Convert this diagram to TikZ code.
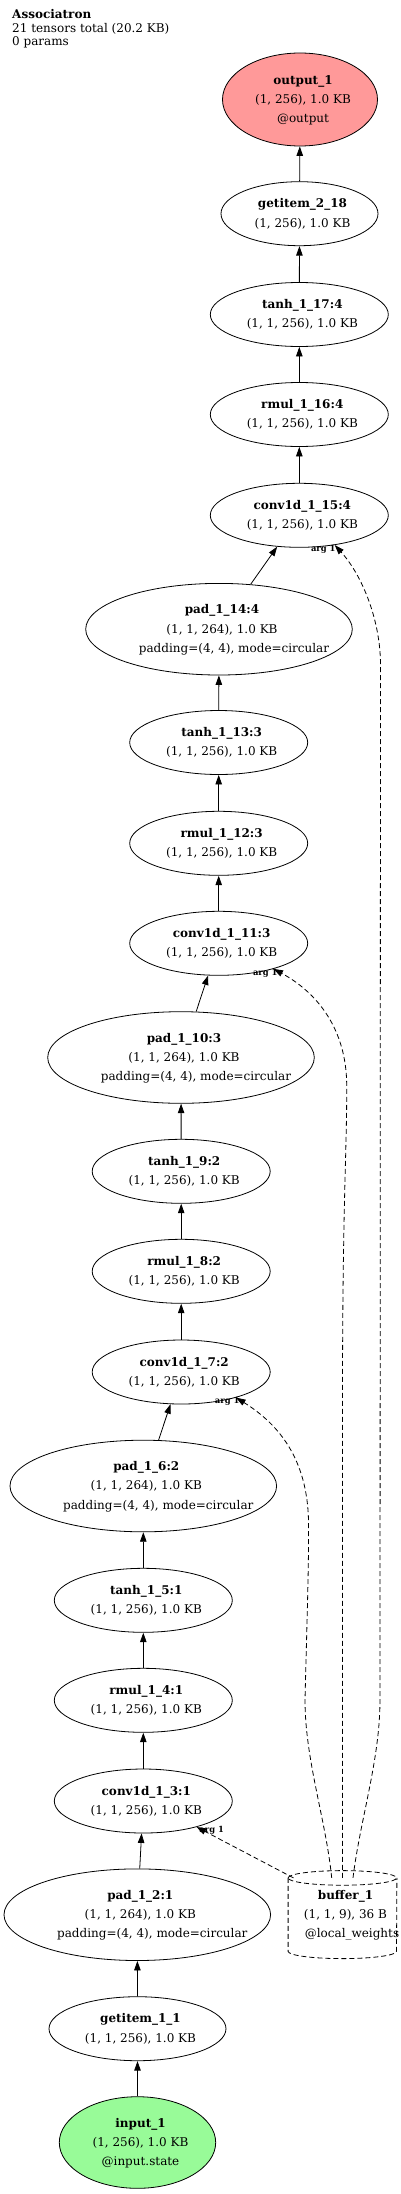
\documentclass[tikz,border=0pt]{standalone}
\usepackage{fontspec}
\setmainfont{DejaVu Serif}
\usetikzlibrary{shapes.geometric,arrows.meta}
\definecolor{outfill}{HTML}{FF9999}
\definecolor{infill}{HTML}{98FB98}
\newcommand{\ntxt}[2]{\makebox[0pt]{\hspace*{6pt}\begin{tabular}{@{}c@{}}\textbf{#1}\\#2\end{tabular}}}
\begin{document}
\begin{tikzpicture}[x=1pt,y=-1pt,
  opnode/.style={ellipse,draw,line width=0.8pt,inner sep=0pt,minimum width=178pt,minimum height=64pt,font=\fontsize{12}{19.2}\selectfont},
  padnode/.style={opnode,minimum width=266.6pt,minimum height=91.6pt},
  conn/.style={line width=0.8pt,-{Triangle[length=9.5pt,width=6.5pt]}},
  dconn/.style={conn,dash pattern=on 5pt off 3pt},
  bufline/.style={line width=0.8pt,dash pattern=on 5pt off 3pt},
  arglbl/.style={font=\fontsize{8.4}{9}\selectfont\bfseries,inner sep=0pt},
  ttl/.style={anchor=base west,inner sep=0pt,font=\fontsize{12}{13.5}\selectfont}]
\useasboundingbox (0,0) rectangle (400,2194);

\node[ttl] (title) at (12,19) {\textbf{Associatron}};
\node[ttl] (tinfo) at (12,32.5) {21 tensors total (20.2 KB)};
\node[ttl] (tparams) at (12,46) {0 params};

\node[opnode,fill=outfill,minimum width=155pt,minimum height=93pt] (out) at (300,99.5) {\ntxt{output\_1}{(1, 256), 1.0 KB\\@output}};
\node[opnode,minimum width=157pt] (g218) at (299.5,213.7) {\ntxt{getitem\_2\_18}{(1, 256), 1.0 KB}};
\node[opnode] (t17) at (299.3,314.5) {\ntxt{tanh\_1\_17:4}{(1, 1, 256), 1.0 KB}};
\node[opnode] (r16) at (299.3,414.5) {\ntxt{rmul\_1\_16:4}{(1, 1, 256), 1.0 KB}};
\node[opnode] (c15) at (299.3,515.3) {\ntxt{conv1d\_1\_15:4}{(1, 1, 256), 1.0 KB}};
\node[padnode] (p14) at (219,629.2) {\ntxt{pad\_1\_14:4}{(1, 1, 264), 1.0 KB\\\hspace*{24pt}padding=(4, 4), mode=circular}};
\node[opnode] (t13) at (218.7,742.5) {\ntxt{tanh\_1\_13:3}{(1, 1, 256), 1.0 KB}};
\node[opnode] (r12) at (218.7,843.3) {\ntxt{rmul\_1\_12:3}{(1, 1, 256), 1.0 KB}};
\node[opnode] (c11) at (218.7,943.3) {\ntxt{conv1d\_1\_11:3}{(1, 1, 256), 1.0 KB}};
\node[padnode] (p10) at (181,1057.5) {\ntxt{pad\_1\_10:3}{(1, 1, 264), 1.0 KB\\\hspace*{24pt}padding=(4, 4), mode=circular}};
\node[opnode] (t9) at (181.2,1171.3) {\ntxt{tanh\_1\_9:2}{(1, 1, 256), 1.0 KB}};
\node[opnode] (r8) at (181.2,1271.3) {\ntxt{rmul\_1\_8:2}{(1, 1, 256), 1.0 KB}};
\node[opnode] (c7) at (181.2,1372) {\ntxt{conv1d\_1\_7:2}{(1, 1, 256), 1.0 KB}};
\node[padnode] (p6) at (143.3,1486) {\ntxt{pad\_1\_6:2}{(1, 1, 264), 1.0 KB\\\hspace*{24pt}padding=(4, 4), mode=circular}};
\node[opnode] (t5) at (143.3,1600.3) {\ntxt{tanh\_1\_5:1}{(1, 1, 256), 1.0 KB}};
\node[opnode] (r4) at (143.3,1700.3) {\ntxt{rmul\_1\_4:1}{(1, 1, 256), 1.0 KB}};
\node[opnode] (c3) at (143.3,1801) {\ntxt{conv1d\_1\_3:1}{(1, 1, 256), 1.0 KB}};
\node[padnode] (p2) at (137.3,1914.7) {\ntxt{pad\_1\_2:1}{(1, 1, 264), 1.0 KB\\\hspace*{24pt}padding=(4, 4), mode=circular}};
\node[opnode,minimum width=177pt] (g11) at (137.5,2028.7) {\ntxt{getitem\_1\_1}{(1, 1, 256), 1.0 KB}};
\node[opnode,fill=infill,minimum width=156.4pt,minimum height=91.6pt] (in) at (137.5,2142.5) {\ntxt{input\_1}{(1, 256), 1.0 KB\\@input.state}};

\node[inner sep=0pt,minimum width=108.4pt,minimum height=73pt,font=\fontsize{12}{19.2}\selectfont] (buf) at (342.5,1914.6) {\ntxt{buffer\_1}{(1, 1, 9), 36 B\\\hspace*{13pt}@local\_weights}};
\draw[bufline] (buf.north west) arc[start angle=180,end angle=-180,x radius=54.2pt,y radius=7.3pt];
\draw[bufline] (buf.north west) -- (buf.south west) arc[start angle=180,end angle=360,x radius=54.2pt,y radius=7.3pt] -- (buf.north east);

\draw[conn] (in) -- (g11);
\draw[conn] (g11) -- (p2);
\draw[conn] (p2) -- (c3);
\draw[conn] (c3) -- (r4);
\draw[conn] (r4) -- (t5);
\draw[conn] (t5) -- (p6);
\draw[conn] (p6) -- (c7);
\draw[conn] (c7) -- (r8);
\draw[conn] (r8) -- (t9);
\draw[conn] (t9) -- (p10);
\draw[conn] (p10) -- (c11);
\draw[conn] (c11) -- (r12);
\draw[conn] (r12) -- (t13);
\draw[conn] (t13) -- (p14);
\draw[conn] (p14) -- (c15);
\draw[conn] (c15) -- (r16);
\draw[conn] (r16) -- (t17);
\draw[conn] (t17) -- (g218);
\draw[conn] (g218) -- (out);

\draw[dconn] ([xshift=-49pt]buf.north) -- (c3.-26);
\draw[dconn] ([xshift=-10.8pt]buf.north) .. controls (326,1820) and (305,1760) .. (305,1700) .. controls (307,1620) and (309,1560) .. (308.5,1520) .. controls (307,1460) and (280,1425) .. (c7.-25);
\draw[dconn] (buf.north) -- (342.5,1400) .. controls (342.5,1200) and (347,1150) .. (346.7,1085) .. controls (346.5,1030) and (318,993) .. (c11.-25);
\draw[dconn] ([xshift=10.5pt]buf.north) .. controls (360,1820) and (380,1760) .. (380,1700) -- (380.5,665) .. controls (380.5,620) and (362,575) .. (c15.-40);

\node[arglbl] (a15) at (323.3,549) {arg 1};
\node[arglbl] (a11) at (265.3,973) {arg 1};
\node[arglbl] (a7) at (227.2,1401.5) {arg 1};
\node[arglbl] (a3) at (211.7,1830.5) {arg 1};
\end{tikzpicture}
\end{document}
